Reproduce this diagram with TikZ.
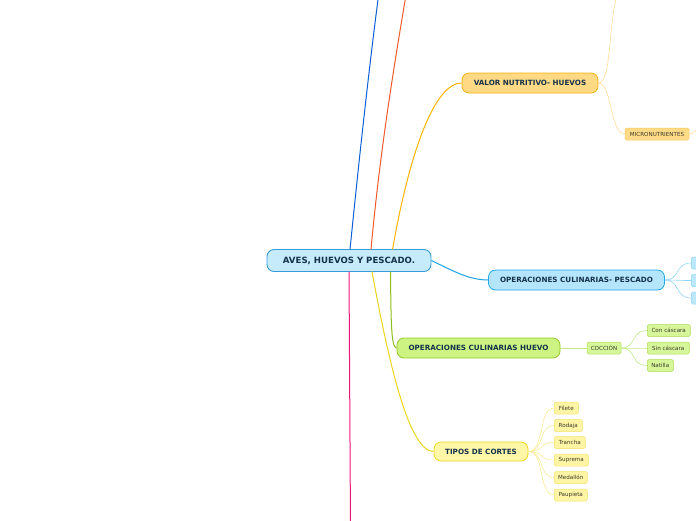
\documentclass[tikz,border=0pt]{standalone}
\usepackage{fontspec}
\setmainfont{DejaVu Sans}
\usetikzlibrary{calc}
\definecolor{navy}{HTML}{15324A}
\definecolor{leaftext}{HTML}{3A3A2A}
\definecolor{rootfill}{HTML}{C6ECFB}
\definecolor{rootdraw}{HTML}{3A9BD9}
\definecolor{orfill}{HTML}{FFD984}
\definecolor{ordraw}{HTML}{F7B30F}
\definecolor{orleaf}{HTML}{FFDB88}
\definecolor{orleafdraw}{HTML}{F9C95A}
\definecolor{orline}{HTML}{FFDD95}
\definecolor{bfill}{HTML}{B5E5FA}
\definecolor{bdraw}{HTML}{1EA6E8}
\definecolor{bleaf}{HTML}{BCE8FB}
\definecolor{bline}{HTML}{8FD5F5}
\definecolor{gfill}{HTML}{CDF482}
\definecolor{gdraw}{HTML}{96C72A}
\definecolor{gleaf}{HTML}{D6F69A}
\definecolor{gleafdraw}{HTML}{B2DB55}
\definecolor{gline}{HTML}{C4E98A}
\definecolor{yfill}{HTML}{FFF6A8}
\definecolor{ydraw}{HTML}{ECD71E}
\definecolor{yleaf}{HTML}{FFF5A5}
\definecolor{yleafdraw}{HTML}{F3E36A}
\definecolor{yline}{HTML}{F7EC97}
\definecolor{c1}{HTML}{0A5FD6}
\definecolor{c2}{HTML}{F05A28}
\definecolor{c3}{HTML}{FFB400}
\definecolor{c4}{HTML}{1BA3E3}
\definecolor{c5}{HTML}{8EBF1C}
\definecolor{c6}{HTML}{EDD51A}
\definecolor{c7}{HTML}{F0147C}
\begin{document}
\begin{tikzpicture}[x=1pt,y=-1pt,
  mainbox/.style={rounded corners=7pt, line width=0.8pt, minimum height=20pt, inner sep=0pt,
    font=\fontsize{7.2}{8}\selectfont\bfseries, text=navy},
  leafbox/.style={rounded corners=1.5pt, line width=0.5pt, minimum height=12pt, inner sep=0pt,
    font=\fontsize{5.6}{6}\selectfont, text=leaftext},
  branch/.style={line width=1pt},
  twig/.style={line width=0.6pt}]
\useasboundingbox (0,0) rectangle (696,520);

% nodes
\node[mainbox, fill=rootfill, draw=rootdraw, line width=0.9pt, minimum width=164pt, minimum height=22pt,
  font=\fontsize{8.6}{9}\selectfont\bfseries] (root) at (349,260.5) {AVES, HUEVOS Y PESCADO.};
\node[mainbox, fill=orfill, draw=ordraw, minimum width=136pt] (valor) at (530,83) {VALOR NUTRITIVO- HUEVOS};
\node[leafbox, fill=orleaf, draw=orleafdraw, minimum width=64pt] (micro) at (657,134) {MICRONUTRIENTES};
\node[mainbox, fill=bfill, draw=bdraw, minimum width=176pt] (pesc) at (576.5,280) {OPERACIONES CULINARIAS- PESCADO};
\node[leafbox, fill=bleaf, draw=bline, minimum width=20pt, anchor=west] (p1) at (691,263) {};
\node[leafbox, fill=bleaf, draw=bline, minimum width=20pt, anchor=west] (p2) at (691,280.5) {};
\node[leafbox, fill=bleaf, draw=bline, minimum width=20pt, anchor=west] (p3) at (691,298) {};
\node[mainbox, fill=gfill, draw=gdraw, minimum width=163pt] (huevo) at (478.5,348) {OPERACIONES CULINARIAS HUEVO};
\node[leafbox, fill=gleaf, draw=gleafdraw, minimum width=34pt] (cocc) at (604,348) {COCCIÓN};
\node[leafbox, fill=gleaf, draw=gleafdraw, minimum width=43pt, anchor=west] (con) at (647,330.5) {Con cáscara};
\node[leafbox, fill=gleaf, draw=gleafdraw, minimum width=42pt, anchor=west] (sin) at (647,348) {Sin cáscara};
\node[leafbox, fill=gleaf, draw=gleafdraw, minimum width=26pt, anchor=west] (nat) at (647,365.5) {Natilla};
\node[mainbox, fill=yfill, draw=ydraw, minimum width=94pt, minimum height=19pt] (tipos) at (481,451.5) {TIPOS DE CORTES};
\node[leafbox, fill=yleaf, draw=yleafdraw, minimum width=24pt, anchor=west] (t1) at (554,408) {Filete};
\node[leafbox, fill=yleaf, draw=yleafdraw, minimum width=28pt, anchor=west] (t2) at (554,425.5) {Rodaja};
\node[leafbox, fill=yleaf, draw=yleafdraw, minimum width=31pt, anchor=west] (t3) at (554,442.5) {Trancha};
\node[leafbox, fill=yleaf, draw=yleafdraw, minimum width=34pt, anchor=west] (t4) at (554,460) {Suprema};
\node[leafbox, fill=yleaf, draw=yleafdraw, minimum width=33pt, anchor=west] (t5) at (554,477.5) {Medallón};
\node[leafbox, fill=yleaf, draw=yleafdraw, minimum width=33pt, anchor=west] (t6) at (554,495) {Paupieta};

% anchor coordinates on root
\coordinate (rb1) at (350,249.5);
\coordinate (rb2) at (371,249.5);
\coordinate (rb3) at (392.5,249.5);
\coordinate (rb5) at (390.5,271.5);
\coordinate (rb6) at (372,271.5);
\coordinate (rb7) at (349,271.5);
\coordinate (e1) at (379,-8);
\coordinate (e2) at (406.5,-8);
\coordinate (e7) at (350.5,528);
\coordinate (vtop) at (618,-8);
\coordinate (mend) at (700,129);

% main branches
\draw[branch, c1] (rb1) .. controls (360,150) and (370,60) .. (e1);
\draw[branch, c2] (rb2) .. controls (380,150) and (395,60) .. (e2);
\draw[branch, c3] (rb3) .. controls (410,150) and (435,83) .. (valor.west);
\draw[branch, c4] (root.east) .. controls (455,272) and (470,280) .. (pesc.west);
\draw[branch, c5] (rb5) .. controls (391,320) and (391,348) .. (huevo.west);
\draw[branch, c6] (rb6) .. controls (390,370) and (410,451.5) .. (tipos.west);
\draw[branch, c7] (rb7) -- (e7);

% twigs
\draw[twig, orline] (valor.east) .. controls (612,83) and (608,20) .. (vtop);
\draw[twig, orline] (valor.east) .. controls (612,83) and (610,134) .. (micro.west);
\draw[twig, orline] (micro.east) .. controls (694,134) and (694,130) .. (mend);
\foreach \t in {p1,p2,p3}
  \draw[twig, bline] (pesc.east) .. controls (680,280) and ($(\t.west)+(-16,0)$) .. (\t.west);
\draw[twig, gline] (huevo.east) -- (cocc.west);
\foreach \t in {con,sin,nat}
  \draw[twig, gline] (cocc.east) .. controls (637,348) and ($(\t.west)+(-17,0)$) .. (\t.west);
\foreach \t in {t1,t2,t3,t4,t5,t6}
  \draw[twig, yline] (tipos.east) .. controls (545,451.5) and ($(\t.west)+(-16,0)$) .. (\t.west);
\end{tikzpicture}
\end{document}
